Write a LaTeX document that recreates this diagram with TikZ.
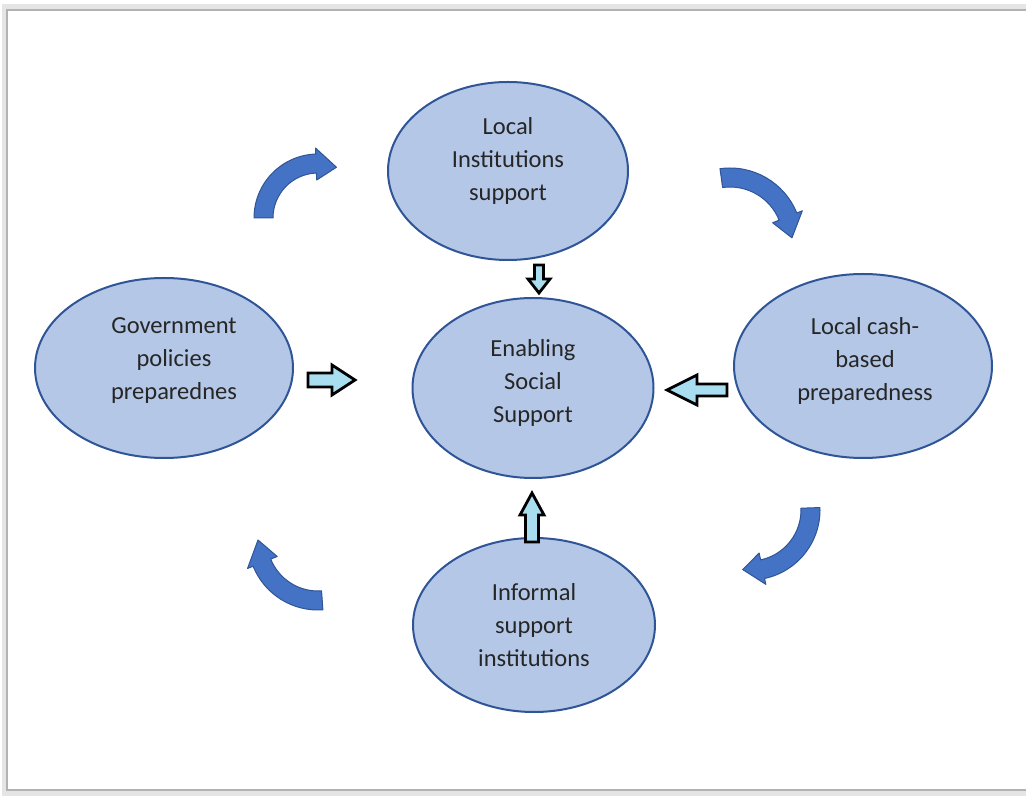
\documentclass[tikz,border=0pt]{standalone}
\usepackage{fontspec}
\setmainfont{Carlito}
\usetikzlibrary{calc,shapes.geometric}
\definecolor{ellfill}{HTML}{B4C7E7}
\definecolor{elldraw}{HTML}{2F5597}
\definecolor{carrow}{HTML}{4472C4}
\definecolor{barrow}{HTML}{A9DDF0}
\definecolor{txt}{HTML}{262626}
\tikzset{
  bubble/.style={ellipse, fill=ellfill, draw=elldraw, line width=2pt, inner sep=0pt},
  bubbletext/.style={align=center, text=txt, font=\fontsize{24.5}{33}\selectfont, inner sep=0pt},
  curvedstyle/.style={fill=carrow, draw=elldraw, line width=1pt, line join=round},
  blockstyle/.style={fill=barrow, draw=black, line width=2.8pt, line join=miter},
}
% cx, cy, R, start angle, head-base angle, tip angle
\newcommand\curvarrow[6]{%
  \draw[curvedstyle] ([shift={(#1,#2)}]#4:#3+10) arc[start angle=#4, end angle=#5, radius=#3+10]
    -- ([shift={(#1,#2)}]#5:#3+16) -- ([shift={(#1,#2)}]#6:#3) -- ([shift={(#1,#2)}]#5:#3-16)
    -- ([shift={(#1,#2)}]#5:#3-9) arc[start angle=#5, end angle=#4, radius=#3-9] -- cycle;}
% x, y (tail), angle, length, head length, head half width, shaft half width
\newcommand\blockarr[7]{%
  \draw[blockstyle, shift={(#1,#2)}, rotate=#3] (0,-#7) -- (#4-#5,-#7) -- (#4-#5,-#6) -- (#4,0)
    -- (#4-#5,#6) -- (#4-#5,#7) -- (0,#7) -- cycle;}
\begin{document}
\begin{tikzpicture}[x=1pt, y=1pt]
\useasboundingbox (0,0) rectangle (1026,796);
\clip (0,0) rectangle (1026,796);
\fill[white] (0,0) rectangle (1026,796);
% frame with soft shadow
\draw[black!10, line width=5pt] (4,3) rectangle (1040,789);
\draw[black!30, line width=1.2pt] (7,6) rectangle (1040,786);

% ellipses
\node[bubble, minimum width=240, minimum height=178] (top) at (508,625) {};
\node[bubble, minimum width=241, minimum height=180] (mid) at (533,408) {};
\node[bubble, minimum width=258, minimum height=180] (left) at (164,428) {};
\node[bubble, minimum width=258, minimum height=184] (right) at (863,430) {};
\node[bubble, minimum width=242, minimum height=174] (bot) at (534,171) {};

\node[bubbletext] (topt) at (508,635) {Local\\Institutions\\support};
\node[bubbletext] (midt) at (533,413) {Enabling\\Social\\Support};
\node[bubbletext] (leftt) at (174,435) {Government\\policies\\preparednes};
\node[bubbletext] (rightt) at (865,435) {Local cash-\\based\\preparedness};
\node[bubbletext] (bott) at (534,171) {Informal\\support\\institutions};

% curved arrows (clockwise cycle)
\curvarrow{318}{578}{54}{180}{92}{70}
\curvarrow{730}{556}{62}{98}{22}{2}
\curvarrow{750}{286}{60}{2}{-78}{-97}
\curvarrow{318}{256}{60}{-86}{-158}{-180}

% block arrows toward centre
\blockarr{308}{416}{0}{47}{23}{15}{7}
\blockarr{727}{406}{180}{60}{30}{15}{6}
\blockarr{532}{254}{90}{49}{22}{12}{6.5}
\blockarr{539}{531}{-90}{28}{14}{11}{4.5}
\end{tikzpicture}
\end{document}
